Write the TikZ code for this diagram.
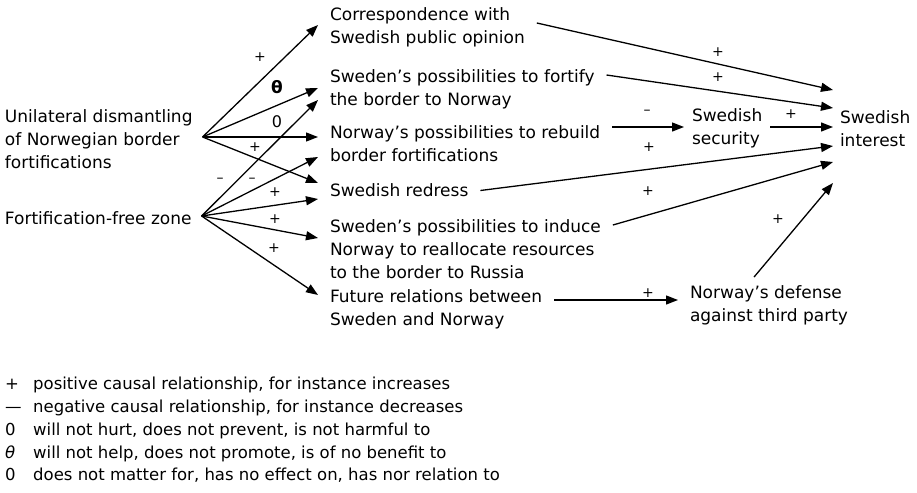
\documentclass[tikz,border=0pt]{standalone}
\usepackage{fontspec}
\setmainfont{DejaVu Sans}
\usetikzlibrary{arrows.meta}

\begin{document}
\begin{tikzpicture}[x=1pt, y=-1pt,
    txt/.style={anchor=west, align=left, inner xsep=0pt, inner ysep=2pt, outer xsep=12pt,
                font=\fontsize{17}{23}\selectfont},
    sgn/.style={inner sep=0pt, font=\fontsize{14}{14}\selectfont},
    arr/.style={-{Triangle[length=12pt,width=9pt]}, line width=1.3pt}
]
\useasboundingbox (0,0) rectangle (917,492);

\node[txt, outer xsep=10pt] (uni)  at (-5,139)   {Unilateral dismantling\\of Norwegian border\\fortifications};
\node[txt, outer xsep=10pt] (zone) at (-5,218.5) {Fortification-free zone};

\node[txt] (corr) at (318,27.5) {Correspondence with\\Swedish public opinion};
\node[txt] (fort) at (318,89.5) {Sweden’s possibilities to fortify\\the border to Norway};
\node[txt] (reb)  at (318,144)  {Norway’s possibilities to rebuild\\border fortifications};
\node[txt] (red)  at (318,190.5) {Swedish redress};
\node[txt] (ind)  at (318,249)  {Sweden’s possibilities to induce\\Norway to reallocate resources\\to the border to Russia};
\node[txt] (fut)  at (318,309)  {Future relations between\\Sweden and Norway};

\node[txt, outer xsep=8pt]  (sec) at (684,128.5) {Swedish\\security};
\node[txt, outer xsep=7pt]  (int) at (833,128.5) {Swedish\\interest};
\node[txt, outer xsep=12pt] (def) at (678,305)   {Norway’s defense\\against third party};

\draw[arr] ([yshift=2pt]uni.east) -- ([yshift=2.5pt]corr.west);
\draw[arr] ([yshift=2pt]uni.east) -- ([yshift=1.5pt]fort.west);
\draw[arr] ([yshift=2pt]uni.east) -- ([yshift=7pt]reb.west);
\draw[arr] ([yshift=2pt]uni.east) -- ([yshift=7.5pt]red.west);
\draw[arr] ([yshift=2.5pt]zone.east) -- ([yshift=-10.5pt]fort.west);
\draw[arr] ([yshift=2.5pt]zone.east) -- ([yshift=-13pt]reb.west);
\draw[arr] ([yshift=2.5pt]zone.east) -- ([yshift=-8.5pt]red.west);
\draw[arr] ([yshift=2.5pt]zone.east) -- ([yshift=11pt]ind.west);
\draw[arr] ([yshift=2.5pt]zone.east) -- ([yshift=14pt]fut.west);

\draw[arr] ([yshift=4.5pt]corr.east) -- ([yshift=38.5pt]int.west);
\draw[arr] ([yshift=14.5pt]fort.east) -- ([yshift=20.5pt]int.west);
\draw[arr] ([yshift=17pt]reb.east) -- ([yshift=1.5pt]sec.west);
\draw[arr] ([yshift=1.5pt]sec.east) -- ([yshift=1.5pt]int.west);
\draw[arr] (red.east) -- ([yshift=-17.5pt]int.west);
\draw[arr] ([yshift=24pt]ind.east) -- ([yshift=-33.5pt]int.west);
\draw[arr] ([xshift=-15pt,yshift=6pt]def.north) -- ([yshift=-54.5pt]int.west);
\draw[arr] ([yshift=9pt]fut.east) -- ([yshift=5pt]def.west);

\node[sgn] (s1) at (260,57) {+};
\node[sgn, font=\fontsize{17}{17}\selectfont\bfseries] (s2) at (277,87) {θ};
\node[sgn, font=\fontsize{16}{16}\selectfont] (s3) at (277,122) {0};
\node[sgn] (s4) at (255,147) {+};
\node[sgn] (s5) at (220,180) {–};
\node[sgn] (s6) at (252,180) {–};
\node[sgn] (s7) at (275,192) {+};
\node[sgn] (s8) at (275,219) {+};
\node[sgn] (s9) at (274,248) {+};

\node[sgn] (r1) at (718,52)  {+};
\node[sgn] (r2) at (718,77)  {+};
\node[sgn] (r3) at (647,112) {–};
\node[sgn] (r4) at (791,114) {+};
\node[sgn] (r5) at (649,147) {+};
\node[sgn] (r6) at (648,191) {+};
\node[sgn] (r7) at (778,219) {+};
\node[sgn] (r8) at (648,293) {+};

\node[anchor=north west, align=left, inner sep=0pt, font=\fontsize{16.5}{22.8}\selectfont] (key) at (5,377)
  {\makebox[28pt][l]{+}positive causal relationship, for instance increases\\
   \makebox[28pt][l]{—}negative causal relationship, for instance decreases\\
   \makebox[28pt][l]{0}will not hurt, does not prevent, is not harmful to\\
   \makebox[28pt][l]{\textit{θ}}will not help, does not promote, is of no benefit to\\
   \makebox[28pt][l]{0}does not matter for, has no effect on, has nor relation to};
\end{tikzpicture}
\end{document}
